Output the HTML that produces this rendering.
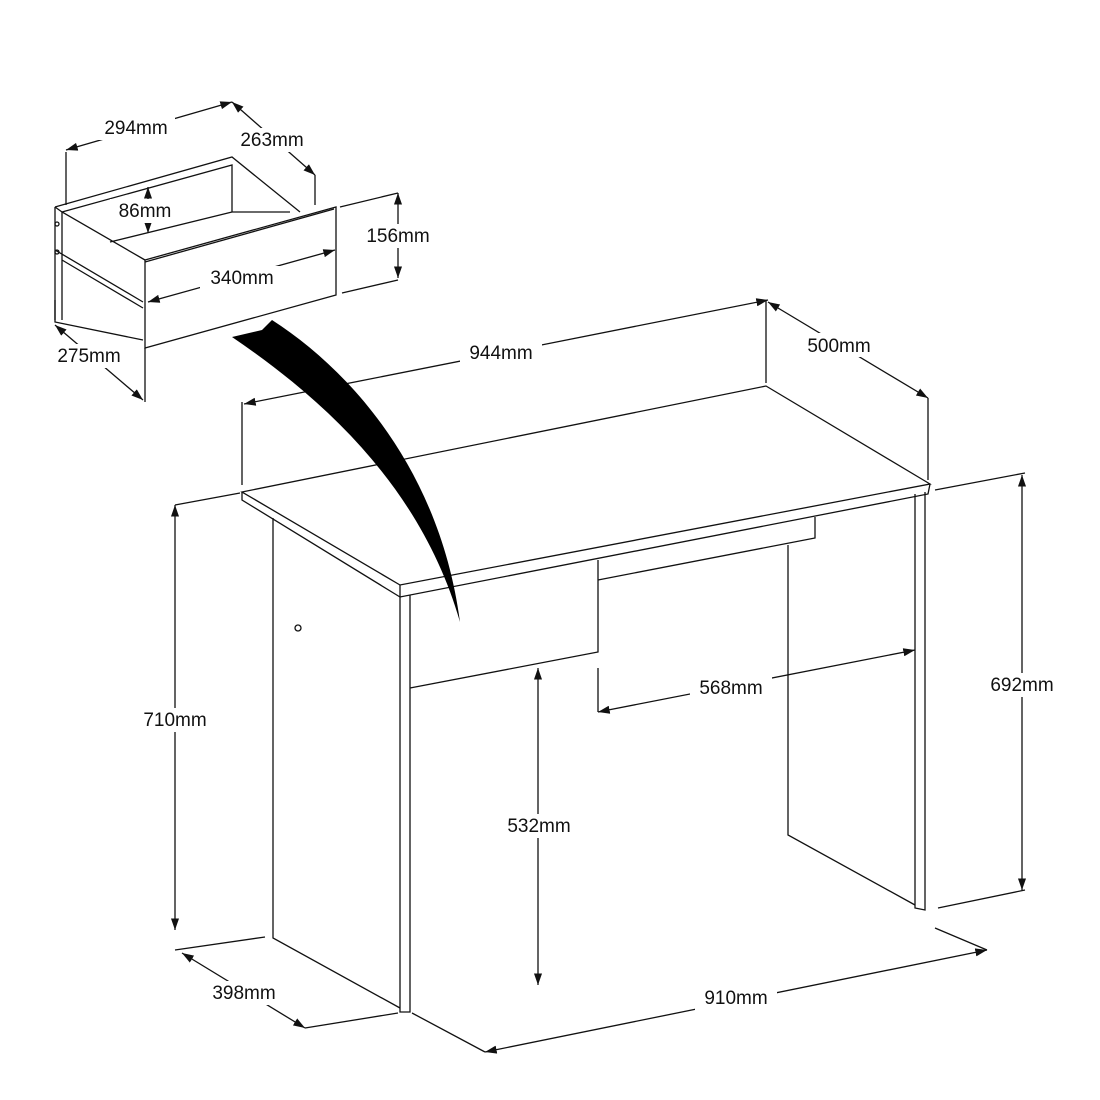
<!DOCTYPE html>
<html><head><style>body{margin:0;background:#fff}svg{display:block}text{font-family:"Liberation Sans",sans-serif;font-size:19px;fill:#111;text-anchor:middle}</style></head><body>
<svg width="1100" height="1100" viewBox="0 0 1100 1100" xmlns="http://www.w3.org/2000/svg">
<defs><marker id="a" viewBox="0 0 10 10" refX="10" refY="5" markerWidth="9" markerHeight="9" orient="auto-start-reverse"><path d="M0,1.5 L10,5 L0,8.5 Z" fill="#111"/></marker></defs>
<g stroke="#111" stroke-width="1.3" fill="none">
<path d="M242,492 L766,386 L930,484 L400,585 Z" fill="#fff"/>
<path d="M242,492 L242,500 L400,597 L928,494 L930,484"/>
<path d="M400,585 L400,597"/>
<path d="M273,518 L273,938 L400,1008"/>
<path d="M400,597 L400,1012 L410,1012 L410,595"/>
<path d="M915,494 L915,908 L925,910 L925,492"/>
<path d="M788,545 L788,835 L915,905"/>
<path d="M410,688 L598,652 L598,560"/>
<path d="M598,580 L815,538 L815,517"/>
<circle cx="298" cy="628" r="3"/>
<path d="M242,485 L242,402 M766,383 L766,300 M928,480 L928,398 M935,490 L1025,473 M938,908 L1025,890 M175,505 L240,493 M175,950 L265,937 M305,1028 L398,1013 M412,1013 L485,1052 M935,928 L987,950 M598,668 L598,712"/>
<path d="M244,404 L768,300" marker-start="url(#a)" marker-end="url(#a)"/>
<path d="M768,302 L928,398" marker-start="url(#a)" marker-end="url(#a)"/>
<path d="M1022,475 L1022,890" marker-start="url(#a)" marker-end="url(#a)"/>
<path d="M175,505 L175,930" marker-start="url(#a)" marker-end="url(#a)"/>
<path d="M182,953 L305,1028" marker-start="url(#a)" marker-end="url(#a)"/>
<path d="M485,1052 L987,950" marker-start="url(#a)" marker-end="url(#a)"/>
<path d="M538,668 L538,985" marker-start="url(#a)" marker-end="url(#a)"/>
<path d="M598,712 L915,650" marker-start="url(#a)" marker-end="url(#a)"/>
<path d="M55,207 L232,157 L300,212 M62,212 L232,165 L232,212 L290,212 M232,212 L110,242 M55,207 L62,212 L145,260"/>
<path d="M145,260 L336,207 L336,295 L145,348 Z" fill="#fff"/>
<path d="M145,262 L334,209"/>
<path d="M55,207 L55,322 L143,340 M55,243 L55,250 L143,302 M62,260 L143,308 M62,212 L62,320"/>
<path d="M66,205 L66,152 M315,205 L315,175 M340,207 L398,193 M342,293 L398,280 M55,320 L55,300 M145,348 L145,402"/>
<circle cx="57" cy="224" r="2"/><circle cx="57" cy="252" r="2"/>
<path d="M66,150 L232,102" marker-start="url(#a)" marker-end="url(#a)"/>
<path d="M232,102 L315,175" marker-start="url(#a)" marker-end="url(#a)"/>
<path d="M148,187 L148,233" marker-start="url(#a)" marker-end="url(#a)"/>
<path d="M398,193 L398,278" marker-start="url(#a)" marker-end="url(#a)"/>
<path d="M148,302 L335,250" marker-start="url(#a)" marker-end="url(#a)"/>
<path d="M55,325 L143,400" marker-start="url(#a)" marker-end="url(#a)"/>
</g>
<g fill="#fff">
<rect x="460" y="340" width="82" height="24"/><rect x="800" y="333" width="78" height="24"/>
<rect x="985" y="673" width="75" height="24"/><rect x="135" y="708" width="80" height="24"/>
<rect x="205" y="981" width="78" height="24"/><rect x="695" y="986" width="82" height="24"/>
<rect x="500" y="814" width="78" height="24"/><rect x="690" y="676" width="82" height="24"/>
<rect x="97" y="116" width="78" height="24"/><rect x="233" y="128" width="78" height="24"/>
<rect x="110" y="199" width="70" height="24"/><rect x="360" y="224" width="76" height="24"/>
<rect x="200" y="266" width="84" height="24"/><rect x="50" y="344" width="78" height="24"/>
</g>
<path d="M232,337 L262,330 L272,320 C350,370 440,470 460,622 C425,500 340,410 232,337 Z" fill="#000"/>
<g>
<text x="501" y="359">944mm</text><text x="839" y="352">500mm</text>
<text x="1022" y="691">692mm</text><text x="175" y="726">710mm</text>
<text x="244" y="999">398mm</text><text x="736" y="1004">910mm</text>
<text x="539" y="832">532mm</text><text x="731" y="694">568mm</text>
<text x="136" y="134">294mm</text><text x="272" y="146">263mm</text>
<text x="145" y="217">86mm</text><text x="398" y="242">156mm</text>
<text x="242" y="284">340mm</text><text x="89" y="362">275mm</text>
</g>
</svg>
</body></html>
